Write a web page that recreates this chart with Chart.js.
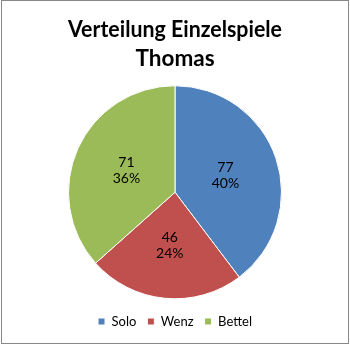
<!DOCTYPE html>
<html>
<head>
<meta charset="utf-8">
<script src="https://cdn.jsdelivr.net/npm/chart.js@4"></script>
<style>
  html, body { margin: 0; padding: 0; background: #fff; }
  #wrap { position: absolute; left: 0; top: 0; width: 350px; height: 345px; }
  #frame { position: absolute; left: 1px; top: 0; width: 346px; height: 342px; border: 1px solid #888; pointer-events: none; }
</style>
</head>
<body>
<div id="wrap">
  <canvas id="pieChart" width="350" height="345"></canvas>
  <div id="frame"></div>
</div>
<script>
// data
const categories = ['Solo', 'Wenz', 'Bettel'];
const games = [77, 46, 71];
const percentLabels = ['40%', '24%', '36%'];
const sliceColors = ['#4F81BD', '#C0504D', '#9BBB59'];

// value + percent inside each slice
const sliceLabels = {
    id: 'sliceLabels',
    afterDatasetsDraw(chart) {
        const ctx = chart.ctx;
        const meta = chart.getDatasetMeta(0);
        ctx.save();
        ctx.fillStyle = '#000';
        ctx.font = '14px Lato';
        ctx.textAlign = 'center';
        ctx.textBaseline = 'middle';
        meta.data.forEach((arc, i) => {
            const pos = arc.tooltipPosition();
            ctx.fillText(String(games[i]), pos.x, pos.y - 8);
            ctx.fillText(percentLabels[i], pos.x, pos.y + 8);
        });
        ctx.restore();
    }
};

const ctx = document.getElementById('pieChart').getContext('2d');
const chart = new Chart(ctx, {
    type: 'pie',
    data: {
        labels: categories,
        datasets: [{
            data: games,
            backgroundColor: sliceColors,
            borderColor: '#fff',
            borderWidth: 1,
            hoverOffset: 0
        }]
    },
    options: {
        responsive: false,
        animation: false,
        layout: {
            padding: { left: 68, right: 68, top: 0, bottom: 7 }
        },
        plugins: {
            title: {
                display: true,
                text: ['Verteilung Einzelspiele', 'Thomas'],
                color: '#000',
                font: { family: 'Lato', size: 22.5, weight: 'bold', lineHeight: 1.3 },
                padding: { top: 15, bottom: 7 }
            },
            legend: {
                position: 'bottom',
                labels: {
                    color: '#000',
                    font: { family: 'Lato', size: 13 },
                    boxWidth: 7,
                    boxHeight: 7,
                    padding: 11
                }
            },
            tooltip: { enabled: false }
        }
    },
    plugins: [sliceLabels]
});
</script>
</body>
</html>
